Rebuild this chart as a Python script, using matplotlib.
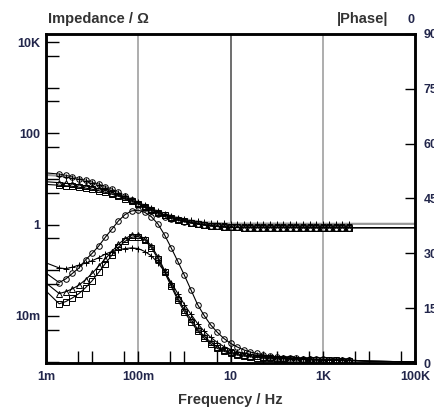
import matplotlib
matplotlib.use("Agg")
import matplotlib.pyplot as plt

plt.rcParams['font.family'] = ['Liberation Sans', 'DejaVu Sans']

# measured frequencies (Hz)
freq = [0.00193, 0.00268, 0.00373, 0.00518, 0.0072, 0.01, 0.0139, 0.0193, 0.0268, 0.0373,
        0.0518, 0.072, 0.1, 0.139, 0.193, 0.268, 0.373, 0.518, 0.72, 1.0,
        1.39, 1.93, 2.68, 3.73, 5.18, 7.2, 10, 13.9, 19.3, 26.8,
        37.3, 51.8, 72, 100, 139, 193, 268, 373, 518, 720,
        1000, 1390, 1930, 2680, 3730]

# |Z| in ohm
z_circle = [12.8, 12.0, 11.1, 10.2, 9.4, 8.5, 7.7, 6.8, 6.0, 5.1,
            4.3, 3.5, 2.9, 2.35, 1.97, 1.70, 1.50, 1.35, 1.24, 1.15,
            1.08, 1.02, 0.975, 0.94, 0.91, 0.89, 0.87, 0.865, 0.86, 0.86,
            0.86, 0.86, 0.86, 0.86, 0.86, 0.86, 0.86, 0.855, 0.855, 0.855,
            0.855, 0.855, 0.855, 0.855, 0.855]
z_plus = [11.8, 11.2, 10.5, 9.8, 8.9, 8.1, 7.2, 6.4, 5.7, 4.9,
          4.25, 3.6, 3.08, 2.63, 2.26, 1.96, 1.74, 1.56, 1.42, 1.32,
          1.24, 1.18, 1.13, 1.10, 1.08, 1.06, 1.05, 1.05, 1.05, 1.05,
          1.05, 1.05, 1.05, 1.05, 1.05, 1.05, 1.04, 1.04, 1.04, 1.04,
          1.04, 1.04, 1.04, 1.04, 1.04]
z_tri = [8.3, 8.05, 7.75, 7.4, 7.0, 6.6, 6.1, 5.6, 5.05, 4.5,
         3.95, 3.43, 2.95, 2.52, 2.15, 1.85, 1.62, 1.44, 1.30, 1.19,
         1.11, 1.05, 1.0, 0.95, 0.91, 0.89, 0.87, 0.865, 0.86, 0.86,
         0.86, 0.86, 0.86, 0.86, 0.86, 0.86, 0.86, 0.855, 0.855, 0.855,
         0.855, 0.855, 0.855, 0.855, 0.855]
z_sq = [7.3, 7.1, 6.9, 6.6, 6.3, 5.95, 5.55, 5.1, 4.65, 4.18,
        3.7, 3.25, 2.82, 2.44, 2.11, 1.83, 1.6, 1.43, 1.29, 1.19,
        1.11, 1.05, 0.99, 0.95, 0.91, 0.89, 0.87, 0.865, 0.86, 0.86,
        0.86, 0.86, 0.86, 0.86, 0.86, 0.86, 0.86, 0.855, 0.855, 0.855,
        0.855, 0.855, 0.855, 0.855, 0.855]

# |phase| in degrees
ph_circle = [22.0, 23.0, 24.5, 26.0, 28.2, 30.0, 32.0, 34.4, 36.6, 38.9,
             40.6, 41.6, 41.8, 41.2, 40.0, 38.0, 35.0, 31.5, 27.8, 24.0,
             20.0, 16.0, 13.0, 10.4, 8.4, 6.7, 5.4, 4.4, 3.6, 3.0,
             2.6, 2.2, 1.9, 1.7, 1.5, 1.4, 1.3, 1.2, 1.1, 1.0,
             1.0, 0.9, 0.9, 0.8, 0.8]
ph_plus = [26.0, 25.8, 26.2, 26.8, 27.3, 28.0, 28.8, 29.8, 30.5, 31.0,
           31.3, 31.5, 31.3, 30.5, 29.3, 27.4, 25.0, 22.0, 19.0, 16.0,
           13.3, 10.8, 8.7, 7.0, 5.6, 4.5, 3.7, 3.1, 2.7, 2.4,
           2.1, 1.9, 1.7, 1.6, 1.5, 1.4, 1.3, 1.2, 1.1, 1.0,
           1.0, 0.9, 0.9, 0.8, 0.8]
ph_tri = [19.0, 19.5, 20.3, 21.3, 22.8, 24.5, 26.5, 28.5, 30.5, 32.5,
          34.0, 35.0, 35.0, 34.0, 32.0, 29.0, 25.3, 21.5, 17.8, 14.6,
          12.0, 9.3, 7.3, 5.7, 4.4, 3.5, 2.9, 2.5, 2.2, 2.0,
          1.8, 1.7, 1.6, 1.4, 1.3, 1.2, 1.1, 1.0, 1.0, 0.9,
          0.9, 0.8, 0.8, 0.8, 0.7]
ph_sq = [16.2, 16.8, 17.8, 19.0, 20.6, 22.5, 24.8, 27.2, 29.5, 31.7,
         33.3, 34.4, 34.6, 33.6, 31.5, 28.5, 24.8, 21.0, 17.2, 14.0,
         11.3, 8.8, 6.8, 5.2, 4.0, 3.2, 2.6, 2.2, 1.9, 1.7,
         1.5, 1.4, 1.3, 1.2, 1.1, 1.0, 0.9, 0.9, 0.8, 0.8,
         0.7, 0.7, 0.7, 0.6, 0.6]

# fit curves: value at 1 mHz, then the data, then 10 kHz and 100 kHz
fit_f = [0.001] + freq + [1e4, 1e5]
z_start = {"o": 13.6, "+": 12.3, "^": 8.7, "s": 7.6}
z_end = {"o": 0.855, "+": 1.04, "^": 0.855, "s": 0.855}
ph_start = {"o": 24.6, "+": 27.4, "^": 21.9, "s": 19.7}
ph_end = [0.5, 0.3]

series = [("o", z_circle, ph_circle), ("+", z_plus, ph_plus),
          ("^", z_tri, ph_tri), ("s", z_sq, ph_sq)]

fig = plt.figure(figsize=(4.34, 4.07), dpi=100)
ax = fig.add_axes([46 / 434, 1 - 363 / 407, 369 / 434, 329 / 407])
ax2 = ax.twinx()

ax.set_xscale("log")
ax.set_yscale("log")
ax.set_xlim(1e-3, 1e5)
ax.set_ylim(9.3e-4, 1.5e4)
ax2.set_ylim(0, 90)

for x, c, lw in [(0.1, "#a0a0a0", 1.2), (10, "#555555", 1.2), (1000, "#a0a0a0", 1.2)]:
    ax.axvline(x, color=c, lw=lw, zorder=0)

for m, z, ph in series:
    zcol = "#999999" if m == "+" else "black"
    zlw = 1.6 if m == "+" else 0.8
    ax.plot(fit_f, [z_start[m]] + z + [z_end[m], z_end[m]], color=zcol, lw=zlw, zorder=2)
    ax2.plot(fit_f, [ph_start[m]] + ph + ph_end, color="black", lw=0.8, zorder=2)
    ax.plot(freq, z, m, ms=4, mfc="none", mec="black", mew=0.7, zorder=3)
    ax2.plot(freq, ph, m, ms=4, mfc="none", mec="black", mew=0.7, zorder=3)

lab_col = "#22264b"
tick_font = dict(fontsize=9, fontweight="bold", color=lab_col)

xt = [1e-3, 5e-3, 1e-2, 5e-2, 0.1, 0.5, 1, 5, 10, 50, 100, 500, 1e3, 5e3, 1e4, 5e4, 1e5]
xl = ["1m", "", "", "", "100m", "", "", "", "10", "", "", "", "1K", "", "", "", "100K"]
ax.set_xticks(xt)
ax.set_xticklabels(xl, **tick_font)
ax.xaxis.set_minor_locator(matplotlib.ticker.NullLocator())

yt = [1e4, 5e3, 1e3, 5e2, 1e2, 50, 10, 5, 1, 0.5, 0.1, 0.05, 0.01, 0.005, 0.001]
yl = ["10K", "", "", "", "100", "", "", "", "1", "", "", "", "10m", "", ""]
ax.set_yticks(yt)
ax.set_yticklabels(yl, **tick_font)
ax.yaxis.set_minor_locator(matplotlib.ticker.NullLocator())

ax2.set_yticks([0, 15, 30, 45, 60, 75, 90])
ax2.set_yticklabels(["0", "15", "30", "45", "60", "75", "90"], **tick_font)

ax.tick_params(axis="x", direction="in", length=9, width=1, pad=6, top=False)
ax.tick_params(axis="y", direction="in", length=9, width=1, pad=4)
ax2.tick_params(axis="y", direction="in", length=7, width=1, pad=6)

for a in (ax, ax2):
    for s in a.spines.values():
        s.set_linewidth(1.8)

txt = dict(fontsize=10.5, fontweight="bold", color="#333333")
fig.text(48 / 434, 1 - 23 / 407, "Impedance / \u03a9", va="baseline", **txt)
fig.text(337 / 434, 1 - 23 / 407, "|Phase|", va="baseline", **txt)
fig.text(408 / 434, 1 - 23 / 407, "0", va="baseline", fontsize=9, fontweight="bold", color=lab_col)
fig.text(230 / 434, 1 - 404 / 407, "Frequency / Hz", ha="center", va="baseline", **txt)

fig.savefig("out.png", dpi=100)
